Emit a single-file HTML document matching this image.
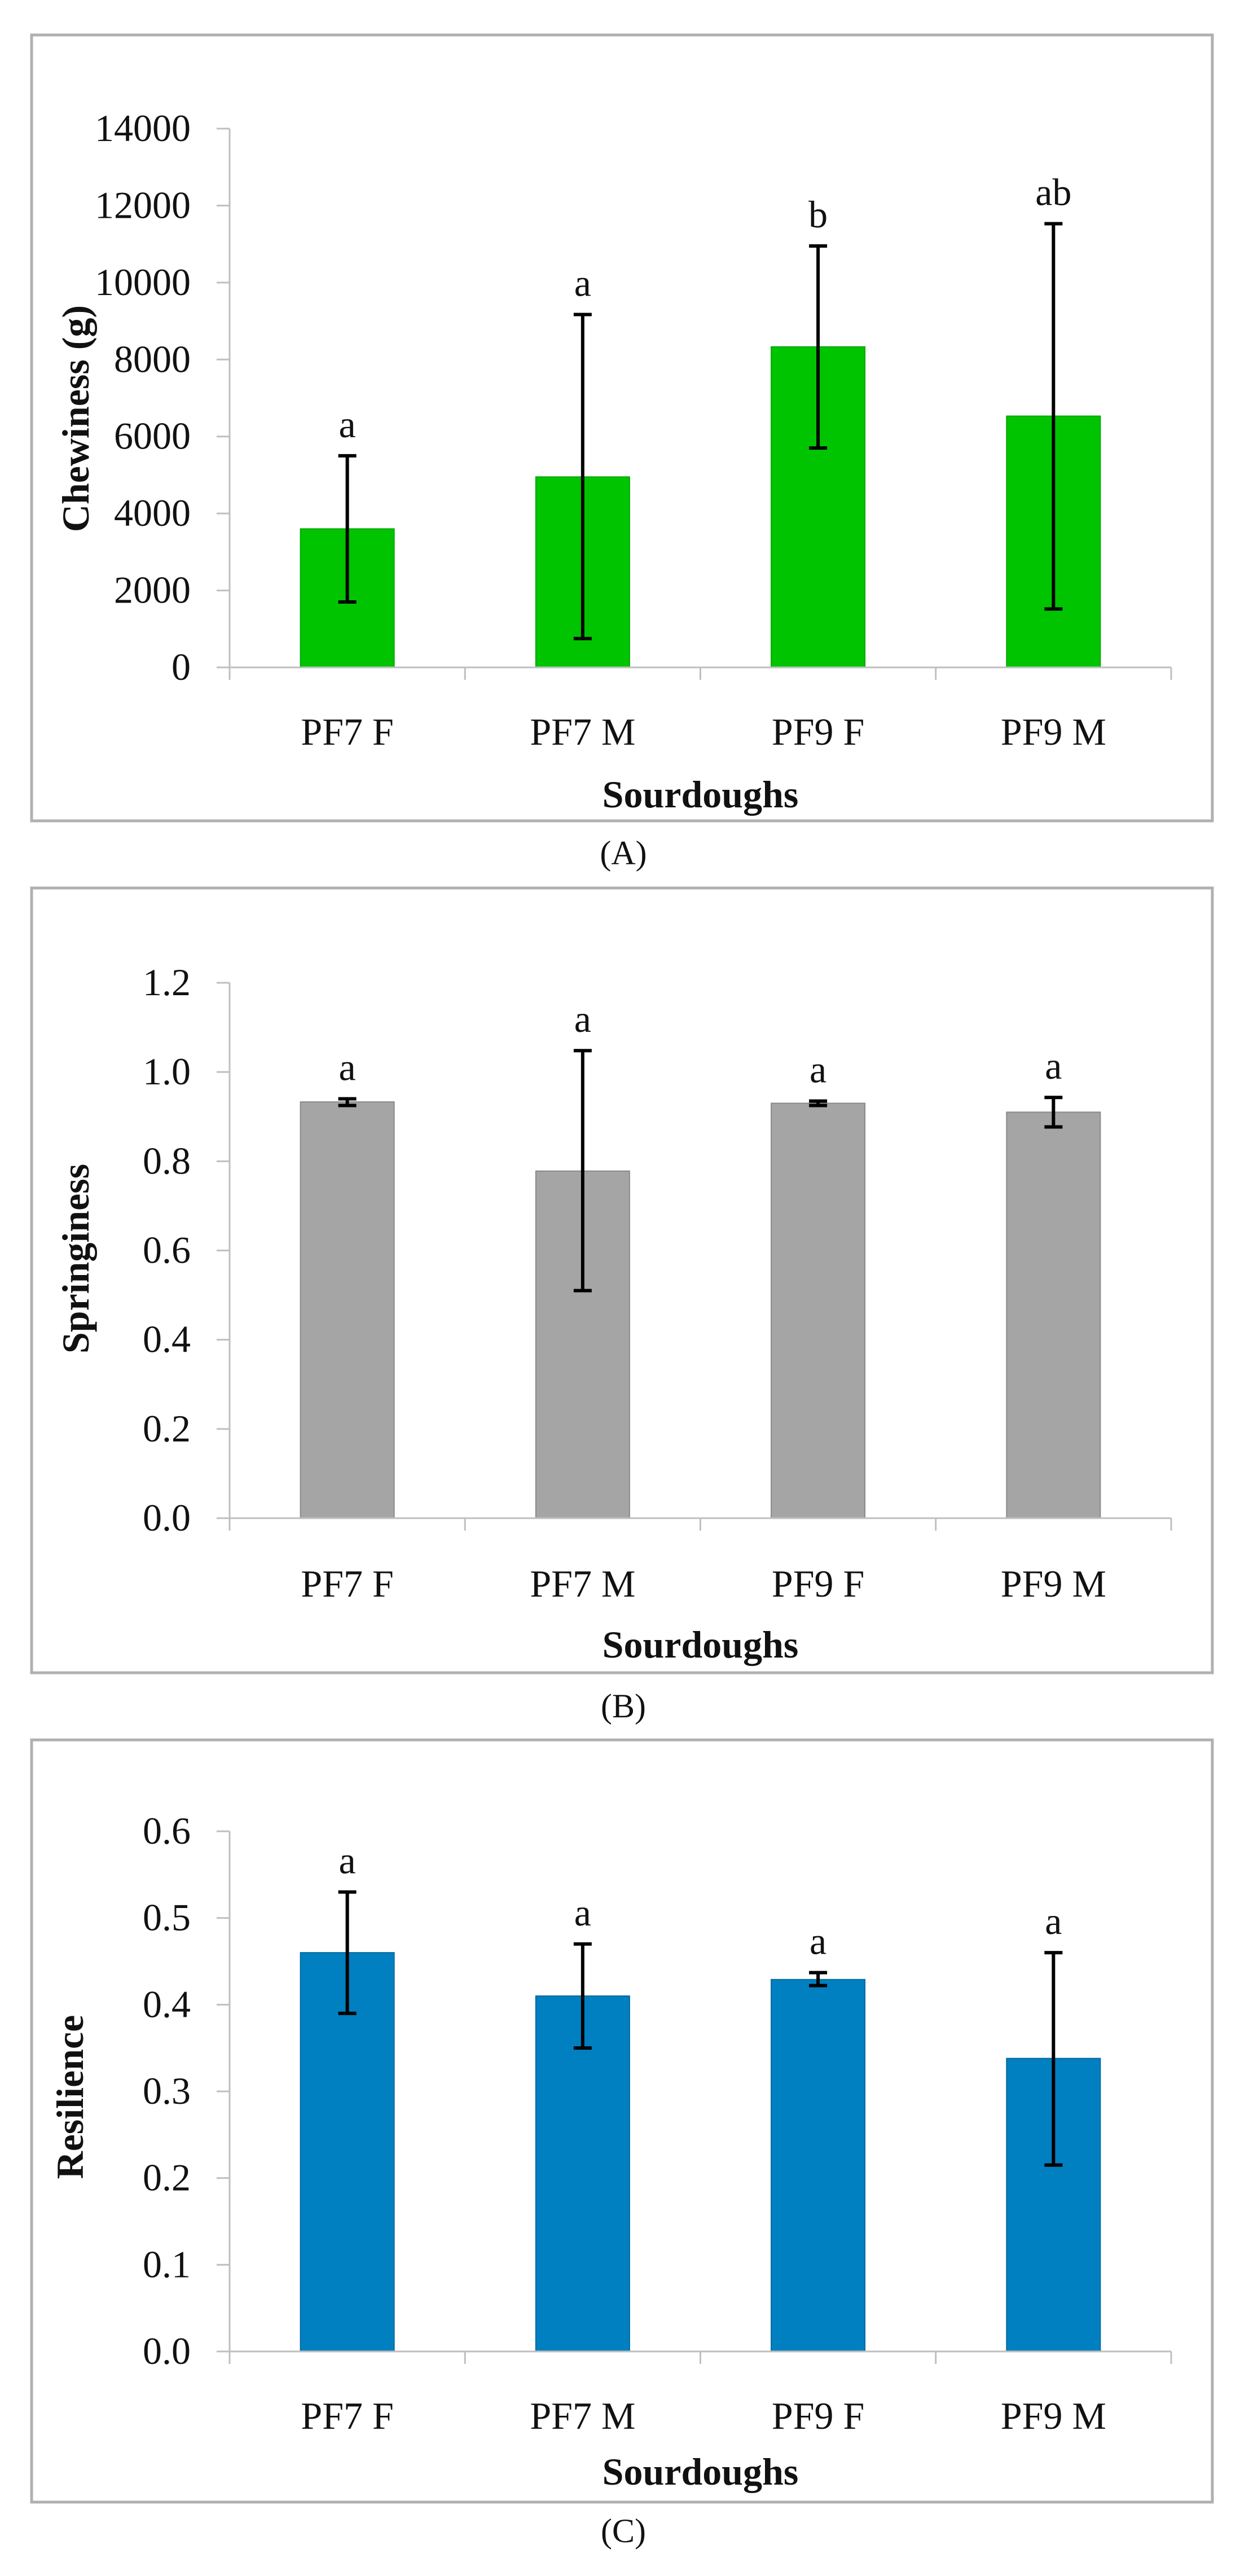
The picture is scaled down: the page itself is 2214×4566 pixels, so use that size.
<!DOCTYPE html>
<html><head><meta charset="utf-8"><style>
html,body{margin:0;padding:0;background:#fff;}
svg{display:block;font-family:"Liberation Serif",serif;}
</style></head><body>
<svg id="fig" width="2214" height="4566" viewBox="0 0 2214 4566" xmlns="http://www.w3.org/2000/svg"></svg>
<script>
const categories = ["PF7 F","PF7 M","PF9 F","PF9 M"];
const chewValues = [3600, 4950, 8330, 6530];
const chewLow = [1700, 750, 5700, 1520];
const chewHigh = [5500, 9170, 10950, 11530];
const chewLetters = ["a","a","b","ab"];
const chewTicks = ["0","2000","4000","6000","8000","10000","12000","14000"];
const springValues = [0.933, 0.778, 0.930, 0.910];
const springLow = [0.925, 0.510, 0.925, 0.877];
const springHigh = [0.940, 1.048, 0.935, 0.943];
const springLetters = ["a","a","a","a"];
const springTicks = ["0.0","0.2","0.4","0.6","0.8","1.0","1.2"];
const resValues = [0.460, 0.410, 0.429, 0.338];
const resLow = [0.390, 0.350, 0.422, 0.215];
const resHigh = [0.530, 0.470, 0.437, 0.460];
const resLetters = ["a","a","a","a"];
const resTicks = ["0.0","0.1","0.2","0.3","0.4","0.5","0.6"];

const NS = "http://www.w3.org/2000/svg";
const svg = document.getElementById('fig');
function mk(tag, attrs, parent, text){
  const e = document.createElementNS(NS, tag);
  for (const k in attrs) e.setAttribute(k, attrs[k]);
  if (text !== undefined) e.textContent = text;
  (parent || svg).appendChild(e);
  return e;
}
const panels = [
  {id:'a', frameTop:62, frameBot:1455, yTop:228, y0:1183, max:14000, ticks:chewTicks, vals:chewValues, lo:chewLow, hi:chewHigh, let:chewLetters,
   fill:'#00c400', stroke:'#00a800', title:'Chewiness (g)', titleY:742, titleX:134, xlab:1320, xt:1431, cap:'(A)', capY:1532},
  {id:'b', frameTop:1574, frameBot:2965, yTop:1742, y0:2691, max:1.2, ticks:springTicks, vals:springValues, lo:springLow, hi:springHigh, let:springLetters,
   fill:'#a5a5a5', stroke:'#8a8a8a', title:'Springiness', titleY:2231, titleX:134, xlab:2830, xt:2938, cap:'(B)', capY:3044},
  {id:'c', frameTop:3084, frameBot:4435, yTop:3246, y0:4168, max:0.6, ticks:resTicks, vals:resValues, lo:resLow, hi:resHigh, let:resLetters,
   fill:'#0080c0', stroke:'#006aa0', title:'Resilience', titleY:3717, titleX:124, xlab:4305, xt:4404, cap:'(C)', capY:4506}
];
const axX = 407, axR = 2076, catW = (axR-axX)/categories.length, barW = 166;
panels.forEach(p => {
  const g = mk('g', {});
  
  
  const fr = mk('rect', {x:56, y:p.frameTop, width:2093, height:p.frameBot-p.frameTop, fill:'none', stroke:'#b0b0b0', 'stroke-width':5}, g);
  
  
  const yScale = v => p.y0 - v / p.max * (p.y0 - p.yTop);
  const n = p.ticks.length;
  const ya = mk('line', {x1:axX, y1:p.yTop, x2:axX, y2:p.y0+22, stroke:'#bfbfbf', 'stroke-width':3}, g);
  
  
  p.ticks.forEach((t, i) => {
    const y = yScale(p.max * i / (n-1));
    const tl = mk('line', {x1:384, y1:y, x2:axX, y2:y, stroke:'#bfbfbf', 'stroke-width':3}, g);
    
    
    const tx = mk('text', {x:338, y:y+22, 'text-anchor':'end', 'font-size':68, fill:'#111'}, g, t);
    
    
  });
  categories.forEach((c, i) => {
    const cx = axX + catW*(i+0.5);
    const v = p.vals[i];
    const b = mk('rect', {x:cx-barW/2, y:yScale(v), width:barW, height:p.y0-yScale(v), fill:p.fill, stroke:p.stroke, 'stroke-width':2}, g);
    
    
    const yl = yScale(p.lo[i]), yh = yScale(p.hi[i]);
    const eb = mk('path', {d:`M${cx},${yl}V${yh}M${cx-16},${yh}H${cx+16}M${cx-16},${yl}H${cx+16}`, stroke:'#000', 'stroke-width':6, fill:'none'}, g);
    
    
    const lt = mk('text', {x:cx, y:yh-33, 'text-anchor':'middle', 'font-size':68, fill:'#111'}, g, p.let[i]);
    
    
    const xl = mk('text', {x:cx, y:p.xlab, 'text-anchor':'middle', 'font-size':68, fill:'#111'}, g, c);
    
    
  });
  for (let i = 0; i <= categories.length; i++) {
    const x = axX + catW*i;
    const xt = mk('line', {x1:x, y1:p.y0, x2:x, y2:p.y0+22, stroke:'#bfbfbf', 'stroke-width':3}, g);
    
    
  }
  const xa = mk('line', {x1:384, y1:p.y0, x2:axR, y2:p.y0, stroke:'#bfbfbf', 'stroke-width':3}, g);
  
  
  const xtt = mk('text', {x:(axX+axR)/2, y:p.xt, 'text-anchor':'middle', 'font-size':68, 'font-weight':'bold', fill:'#111'}, g, 'Sourdoughs');
  
  
  const ytt = mk('text', {x:0, y:0, 'text-anchor':'middle', 'font-size':68, 'font-weight':'bold', fill:'#111', transform:`translate(${p.titleX+23},${p.titleY}) rotate(-90)`}, g, p.title);
  
  
  const cp = mk('text', {x:1105, y:p.capY, 'text-anchor':'middle', 'font-size':60, fill:'#111'}, g, p.cap);
  
  
});
</script>
</body></html>
